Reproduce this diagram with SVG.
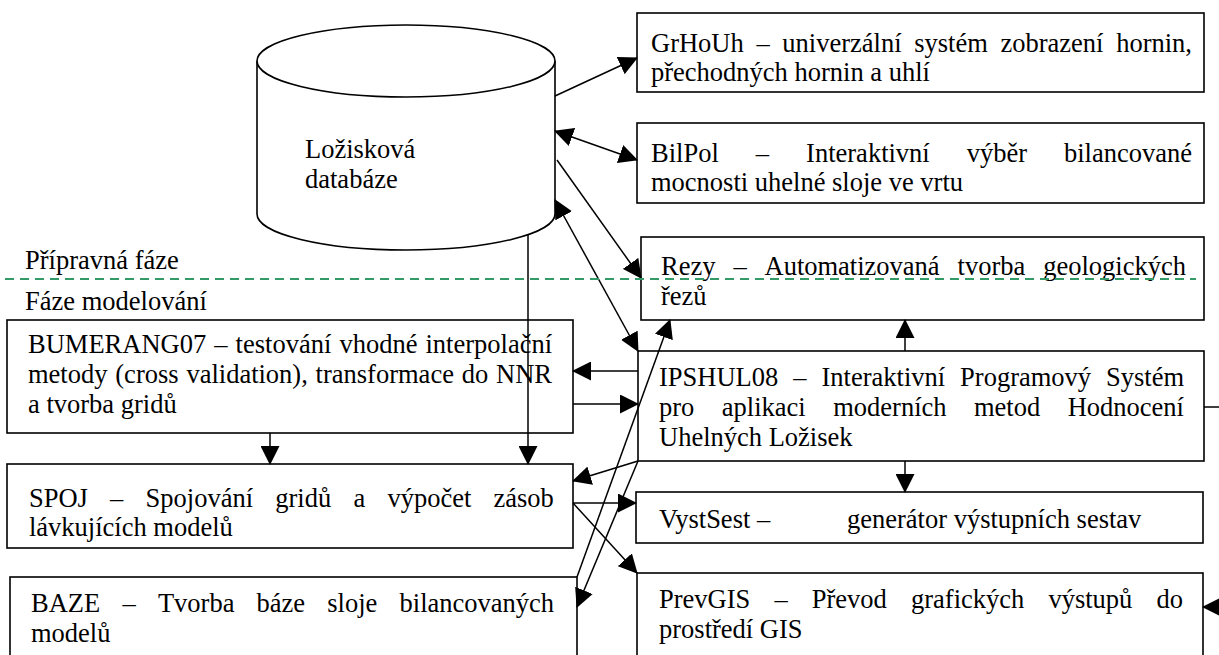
<svg xmlns="http://www.w3.org/2000/svg" width="1219" height="655" viewBox="0 0 1219 655">
<style>
.box{fill:#fff;stroke:#000;stroke-width:1.6}
.t{font-family:"Liberation Serif","Times New Roman",serif;font-size:26.5px;fill:#000}
.c{stroke:#000;stroke-width:1.5;fill:none}
.arr{marker-end:url(#ah)}
.dbl{marker-start:url(#ah);marker-end:url(#ah)}
.phase{stroke:#339966;stroke-width:2;stroke-dasharray:9 6;fill:none}
</style>
<defs>
<marker id="ah" viewBox="0 0 19 19" refX="18" refY="9.5" markerWidth="19" markerHeight="19" markerUnits="userSpaceOnUse" orient="auto-start-reverse">
<path d="M0,0 L19,9.5 L0,19 z" fill="#000"/>
</marker>
</defs>
<rect width="1219" height="655" fill="#fff"/>

<g id="db">
<path class="box" d="M257,61 V214 A149,36 0 0 0 555,214 V61"/>
<ellipse class="box" cx="406" cy="61" rx="149" ry="36"/>
<text class="t"><tspan x="305" y="158">Ložisková</tspan><tspan x="305" y="188">databáze</tspan></text>
</g>

<g id="phase-labels">
<text class="t" x="25" y="269">Přípravná fáze</text>
<text class="t" x="25" y="310">Fáze modelování</text>
</g>

<g id="grhouh">
<rect class="box" x="637" y="13" width="567" height="79"/>
<text class="t" y="52"><tspan x="651">GrHoUh </tspan><tspan x="756.4">– </tspan><tspan x="782.3">univerzální </tspan><tspan x="914.2">systém </tspan><tspan x="1000.5">zobrazení </tspan><tspan x="1116.2">hornin,</tspan></text>
<text class="t" x="651" y="81">přechodných hornin a uhlí</text>
</g>

<g id="bilpol">
<rect class="box" x="637" y="123" width="567" height="80"/>
<text class="t" y="162"><tspan x="651">BilPol </tspan><tspan x="755.8">– </tspan><tspan x="806.1">Interaktivní </tspan><tspan x="966.7">výběr </tspan><tspan x="1064">bilancované</tspan></text>
<text class="t" x="651" y="191">mocnosti uhelné sloje ve vrtu</text>
</g>

<g id="rezy">
<rect class="box" x="641" y="237" width="563" height="83"/>
<text class="t" y="275"><tspan x="661">Rezy </tspan><tspan x="733.4">– </tspan><tspan x="764.5">Automatizovaná </tspan><tspan x="957.6">tvorba </tspan><tspan x="1043.2">geologických</tspan></text>
<text class="t" x="661" y="305">řezů</text>
</g>

<g id="ipshul">
<rect class="box" x="638" y="351" width="566" height="110"/>
<text class="t" y="386"><tspan x="659">IPSHUL08 </tspan><tspan x="793.2">– </tspan><tspan x="821.5">Interaktivní </tspan><tspan x="960.1">Programový </tspan><tspan x="1106">Systém</tspan></text>
<text class="t" y="416"><tspan x="659">pro </tspan><tspan x="721.8">aplikaci </tspan><tspan x="833.2">moderních </tspan><tspan x="974">metod </tspan><tspan x="1067.7">Hodnocení</tspan></text>
<text class="t" x="659" y="446">Uhelných Ložisek</text>
</g>

<g id="vystsest">
<rect class="box" x="636" y="492" width="567" height="51"/>
<text class="t" y="528"><tspan x="659">VystSest – </tspan><tspan x="847">generátor výstupních sestav</tspan></text>
</g>

<g id="prevgis">
<rect class="box" x="637" y="573" width="566" height="95"/>
<text class="t" y="608"><tspan x="659">PrevGIS </tspan><tspan x="774.4">– </tspan><tspan x="811.8">Převod </tspan><tspan x="911">grafických </tspan><tspan x="1048.4">výstupů </tspan><tspan x="1156.4">do</tspan></text>
<text class="t" x="659" y="638">prostředí GIS</text>
</g>

<g id="bumerang">
<rect class="box" x="7" y="320" width="566" height="113"/>
<text class="t" y="353"><tspan x="28">BUMERANG07 </tspan><tspan x="214.2">– </tspan><tspan x="235.6">testování </tspan><tspan x="339.4">vhodné </tspan><tspan x="425.5">interpolační</tspan></text>
<text class="t" y="383"><tspan x="28">metody </tspan><tspan x="115.3">(cross </tspan><tspan x="186.4">validation), </tspan><tspan x="315.6">transformace </tspan><tspan x="461.7">do </tspan><tspan x="496">NNR</tspan></text>
<text class="t" x="28" y="413">a tvorba gridů</text>
</g>

<g id="spoj">
<rect class="box" x="7" y="464" width="566" height="84"/>
<text class="t" y="507"><tspan x="29">SPOJ </tspan><tspan x="110.1">– </tspan><tspan x="145.6">Spojování </tspan><tspan x="275.3">gridů </tspan><tspan x="353.4">a </tspan><tspan x="387.4">výpočet </tspan><tspan x="493.5">zásob</tspan></text>
<text class="t" x="29" y="536">lávkujících modelů</text>
</g>

<g id="baze">
<rect class="box" x="10" y="577" width="567" height="95"/>
<text class="t" y="612"><tspan x="31">BAZE </tspan><tspan x="122.4">– </tspan><tspan x="157.9">Tvorba </tspan><tspan x="256.6">báze </tspan><tspan x="327.3">sloje </tspan><tspan x="399.6">bilancovaných</tspan></text>
<text class="t" x="31" y="642">modelů</text>
</g>

<g id="connectors">
<line class="c arr" x1="555" y1="96" x2="637" y2="58"/>
<line class="c dbl" x1="555" y1="131" x2="637" y2="160"/>
<line class="c arr" x1="557" y1="160" x2="641" y2="278"/>
<line class="c dbl" x1="555" y1="200" x2="638" y2="351"/>
<line class="c arr" x1="528" y1="235" x2="528" y2="464"/>
<line class="c arr" x1="270" y1="433" x2="270" y2="464"/>
<line class="c arr" x1="638" y1="371" x2="573" y2="371"/>
<line class="c arr" x1="573" y1="404" x2="638" y2="404"/>
<line class="c arr" x1="905" y1="351" x2="905" y2="320"/>
<line class="c arr" x1="905" y1="461" x2="905" y2="492"/>
<line class="c arr" x1="638" y1="461" x2="573" y2="481"/>
<line class="c arr" x1="638" y1="461" x2="577" y2="607"/>
<line class="c arr" x1="577" y1="577" x2="670" y2="320"/>
<line class="c arr" x1="573" y1="503" x2="636" y2="503"/>
<line class="c arr" x1="573" y1="503" x2="637" y2="573"/>
<path class="c arr" d="M1204,407 H1240 V607 H1203"/>
</g>
<line id="phase-divider" class="phase" x1="5" y1="279" x2="1196" y2="279"/>
</svg>
